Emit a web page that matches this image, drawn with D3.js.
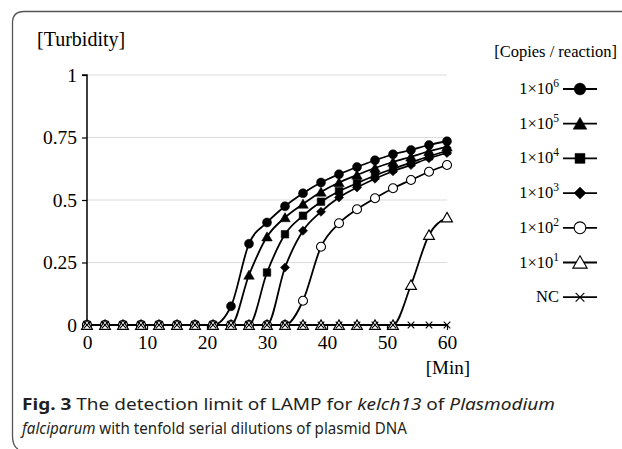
<!DOCTYPE html>
<html>
<head>
<meta charset="utf-8">
<script src="https://cdn.jsdelivr.net/npm/d3@7"></script>
<style>
  body { margin: 0; background: #fff; }
  svg { display: block; }
</style>
</head>
<body>
<svg id="chart" width="622" height="449"></svg>
<script>
// time points (min)
const times = [0, 3, 6, 9, 12, 15, 18, 21, 24, 27, 30, 33, 36, 39, 42, 45, 48, 51, 54, 57, 60];

// turbidity readings per dilution
const c1e6 = [0, 0, 0, 0, 0, 0, 0, 0, 0.075, 0.325, 0.41, 0.475, 0.527, 0.57, 0.603, 0.632, 0.659, 0.683, 0.70, 0.72, 0.735];
const c1e5 = [0, 0, 0, 0, 0, 0, 0, 0, 0, 0.2, 0.353, 0.43, 0.484, 0.532, 0.57, 0.60, 0.628, 0.652, 0.673, 0.695, 0.713];
const c1e4 = [0, 0, 0, 0, 0, 0, 0, 0, 0, 0, 0.21, 0.363, 0.437, 0.493, 0.535, 0.567, 0.598, 0.625, 0.65, 0.675, 0.697];
const c1e3 = [0, 0, 0, 0, 0, 0, 0, 0, 0, 0, 0, 0.23, 0.377, 0.453, 0.51, 0.55, 0.585, 0.615, 0.64, 0.667, 0.688];
const c1e2 = [0, 0, 0, 0, 0, 0, 0, 0, 0, 0, 0, 0, 0.097, 0.313, 0.407, 0.463, 0.507, 0.547, 0.58, 0.613, 0.64];
const c1e1 = [0, 0, 0, 0, 0, 0, 0, 0, 0, 0, 0, 0, 0, 0, 0, 0, 0, 0, 0.16, 0.36, 0.43];
const cNC  = [0, 0, 0, 0, 0, 0, 0, 0, 0, 0, 0, 0, 0, 0, 0, 0, 0, 0, 0, 0, 0];

const seriesExp = ["6", "5", "4", "3", "2", "1", null];   // null -> NC
const yTicks = [0, 0.25, 0.5, 0.75, 1];
const yTickLabels = ["0", "0.25", "0.5", "0.75", "1"];
const xTicks = [0, 10, 20, 30, 40, 50, 60];

// diamond drawn as a square turned 45deg
const series = [
  { exp: seriesExp[0], values: c1e6, shape: d3.symbolCircle,   size: 64, fill: "#000", rot: 0 },
  { exp: seriesExp[1], values: c1e5, shape: d3.symbolTriangle, size: 48, fill: "#000", rot: 0 },
  { exp: seriesExp[2], values: c1e4, shape: d3.symbolSquare,   size: 58, fill: "#000", rot: 0 },
  { exp: seriesExp[3], values: c1e3, shape: d3.symbolSquare,   size: 42, fill: "#000", rot: 45 },
  { exp: seriesExp[4], values: c1e2, shape: d3.symbolCircle,   size: 64, fill: "#fff", rot: 0 },
  { exp: seriesExp[5], values: c1e1, shape: d3.symbolTriangle, size: 52, fill: "#fff", rot: 0 },
  { exp: seriesExp[6], values: cNC,  shape: d3.symbolTimes,    size: 30, fill: "none", rot: 0 }
];

const svg = d3.select("#chart");
const serif = "'Liberation Serif', 'Times New Roman', serif";

// frame bracket on the left/top
svg.append("path")
  .attr("d", "M622,11.5 L24,11.5 Q12.5,11.5 12.5,23 L12.5,436 Q12.5,446 18,449")
  .attr("fill", "none")
  .attr("stroke", "#555")
  .attr("stroke-width", 1.3);

const x = d3.scaleLinear().domain([0, 60]).range([87, 447]);
const y = d3.scaleLinear().domain([0, 1]).range([325, 75]);

// gridlines
svg.append("g")
  .selectAll("line")
  .data(yTicks.filter(d => d > 0))
  .join("line")
  .attr("x1", x(0)).attr("x2", x(60))
  .attr("y1", d => y(d)).attr("y2", d => y(d))
  .attr("stroke", "#dcdcdc")
  .attr("stroke-width", 1);

// y axis
const yAxis = svg.append("g")
  .attr("transform", `translate(${x(0)},0)`)
  .call(d3.axisLeft(y).tickValues(yTicks).tickSize(5).tickPadding(5)
    .tickFormat((d, i) => yTickLabels[i]));
yAxis.select(".domain").attr("stroke", "#000").attr("stroke-width", 1.5)
  .attr("d", `M-5,${y(1)}H0V${y(0)}`);
yAxis.selectAll(".tick line").attr("stroke", "#000").attr("stroke-width", 1.2);
yAxis.selectAll("text").attr("font-family", serif).attr("font-size", 19.5).attr("fill", "#000");

// x axis
const xAxis = svg.append("g")
  .attr("transform", `translate(0,${y(0)})`)
  .call(d3.axisBottom(x).tickValues(xTicks).tickSize(5).tickPadding(5));
xAxis.select(".domain").attr("stroke", "#000").attr("stroke-width", 2)
  .attr("d", `M${x(0)},0H${x(60)}`);
xAxis.selectAll(".tick line").attr("stroke", "#000").attr("stroke-width", 1.2);
xAxis.selectAll("text").attr("font-family", serif).attr("font-size", 19.5).attr("fill", "#000");

// axis titles
svg.append("text")
  .attr("x", 37).attr("y", 46)
  .attr("font-family", serif).attr("font-size", 20)
  .text("[Turbidity]");
svg.append("text")
  .attr("x", 470).attr("y", 374)
  .attr("text-anchor", "end")
  .attr("font-family", serif).attr("font-size", 19)
  .text("[Min]");

// lines
const line = d3.line()
  .x((d, i) => x(times[i]))
  .y(d => y(d))
  .curve(d3.curveMonotoneX);

const plot = svg.append("g");
series.forEach(s => {
  plot.append("path")
    .attr("d", line(s.values))
    .attr("fill", "none")
    .attr("stroke", "#000")
    .attr("stroke-width", 1.8);
});

function drawMarker(g, s, cx, cy, scale) {
  const sym = d3.symbol().type(s.shape).size(s.size * scale);
  const p = g.append("path")
    .attr("d", sym())
    .attr("transform", `translate(${cx},${cy}) rotate(${s.rot})`)
    .attr("stroke", "#000");
  if (s.fill === "none") {
    p.attr("fill", "none").attr("stroke-width", 1.1);
  } else if (s.fill === "#fff") {
    p.attr("fill", "#fff").attr("stroke-width", 1.1);
  } else {
    p.attr("fill", "#000").attr("stroke-width", 0.5);
  }
}

series.forEach(s => {
  s.values.forEach((v, i) => {
    const off = s.shape === d3.symbolTriangle ? 1.2 : 0;
    drawMarker(plot, s, x(times[i]), y(v) + off, 1);
  });
});

// legend
svg.append("text")
  .attr("x", 617).attr("y", 57)
  .attr("text-anchor", "end")
  .attr("font-family", serif).attr("font-size", 16.5)
  .text("[Copies / reaction]");

const legend = svg.append("g");
series.forEach((s, i) => {
  const ly = 89 + i * 34.7;
  const t = legend.append("text")
    .attr("x", 559).attr("y", ly + 5)
    .attr("text-anchor", "end")
    .attr("font-family", serif).attr("font-size", 16.5);
  if (s.exp === null) {
    t.text("NC");
  } else {
    t.append("tspan").text("1×10");
    t.append("tspan").attr("font-size", 11.5).attr("dy", -7).text(s.exp);
  }
  legend.append("line")
    .attr("x1", 563).attr("x2", 597)
    .attr("y1", ly).attr("y2", ly)
    .attr("stroke", "#000").attr("stroke-width", 1.8);
  drawMarker(legend, s, 580, ly + (s.shape === d3.symbolTriangle ? 1.5 : 0), 1.7);
});

// caption
const sans = "'Noto Sans', 'Open Sans', sans-serif";
const cap1 = svg.append("text")
  .attr("x", 22).attr("y", 410)
  .attr("font-family", sans).attr("font-size", 16.5).attr("fill", "#231f20")
  .attr("textLength", 533).attr("lengthAdjust", "spacingAndGlyphs");
cap1.append("tspan").attr("font-weight", "bold").text("Fig. 3");
cap1.append("tspan").text("  The detection limit of LAMP for ");
cap1.append("tspan").attr("font-style", "italic").text("kelch13");
cap1.append("tspan").text(" of ");
cap1.append("tspan").attr("font-style", "italic").text("Plasmodium");

const cap2 = svg.append("text")
  .attr("x", 22).attr("y", 434)
  .attr("font-family", sans).attr("font-size", 16.5).attr("fill", "#231f20")
  .attr("textLength", 385).attr("lengthAdjust", "spacingAndGlyphs");
cap2.append("tspan").attr("font-style", "italic").text("falciparum");
cap2.append("tspan").text(" with tenfold serial dilutions of plasmid DNA");
</script>
</body>
</html>
